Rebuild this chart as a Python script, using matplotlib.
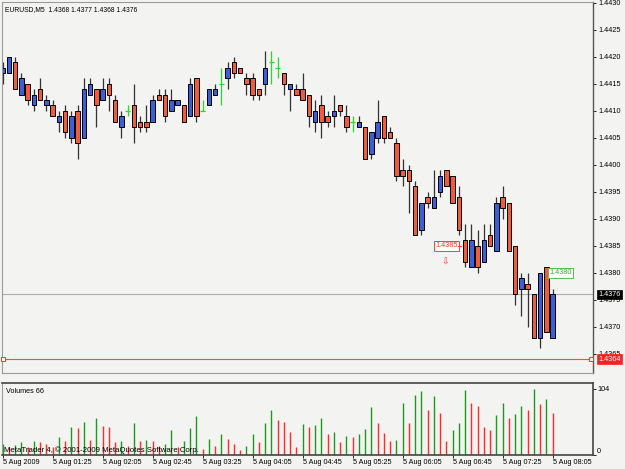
import matplotlib
matplotlib.use("Agg")
import matplotlib.pyplot as plt
from matplotlib.patches import Rectangle
import matplotlib.transforms as mtransforms

# ---------------- data ----------------
symbol = "EURUSD,M5"
opens = [1.4417, 1.4417, 1.4419, 1.4413, 1.4415, 1.4411, 1.4414, 1.4411, 1.4411, 1.4408,
         1.4410, 1.4405, 1.4410, 1.4405, 1.4413, 1.4414, 1.4412, 1.4415, 1.4412, 1.4407,
         1.4410, 1.4411, 1.4408, 1.4408, 1.4408, 1.4413, 1.4413, 1.4410, 1.4411, 1.4411,
         1.4409, 1.4416, 1.4410, 1.4411, 1.4413, 1.4415, 1.4416, 1.4419, 1.4418, 1.4416,
         1.4416, 1.4414, 1.4415, 1.4419, 1.4418, 1.4417, 1.4414, 1.4414, 1.4414, 1.4413,
         1.4408, 1.4411, 1.4409, 1.4409, 1.4411, 1.4409, 1.4408, 1.4407, 1.4407, 1.4402,
         1.4405, 1.4409, 1.4406, 1.4404, 1.4399, 1.4399, 1.4396, 1.4388, 1.4394, 1.4392,
         1.4395, 1.4399, 1.4398, 1.4394, 1.4386, 1.4381, 1.4385, 1.4382, 1.4387, 1.4384,
         1.4394, 1.4393, 1.4385, 1.4377, 1.4378, 1.4376, 1.4368, 1.4381, 1.4368]
highs = [1.4419, 1.4420, 1.4420, 1.4417, 1.4415, 1.4414, 1.4416, 1.4413, 1.4412, 1.4410,
         1.4411, 1.4410, 1.4411, 1.4416, 1.4416, 1.4414, 1.4416, 1.4416, 1.4413, 1.4410,
         1.4411, 1.4415, 1.4409, 1.4411, 1.4413, 1.4414, 1.4414, 1.4414, 1.4412, 1.4411,
         1.4416, 1.4416, 1.4412, 1.4414, 1.4415, 1.4418, 1.4419, 1.4420, 1.4418, 1.4417,
         1.4417, 1.4414, 1.4421, 1.4421, 1.4420, 1.4417, 1.4415, 1.4415, 1.4417, 1.4413,
         1.4412, 1.4413, 1.4410, 1.4413, 1.4411, 1.4411, 1.4409, 1.4409, 1.4407, 1.4406,
         1.4412, 1.4409, 1.4407, 1.4405, 1.4401, 1.4400, 1.4397, 1.4393, 1.4395, 1.4399,
         1.4399, 1.4399, 1.4398, 1.4396, 1.4389, 1.4389, 1.4388, 1.4389, 1.4389, 1.4394,
         1.4396, 1.4393, 1.4385, 1.4380, 1.4380, 1.4376, 1.4380, 1.4381, 1.4377]
lows = [1.4415, 1.4417, 1.4414, 1.4413, 1.4411, 1.4410, 1.4412, 1.4410, 1.4409, 1.4406,
        1.4405, 1.4404, 1.4401, 1.4405, 1.4413, 1.4407, 1.4412, 1.4410, 1.4408, 1.4405,
        1.4409, 1.4404, 1.4406, 1.4406, 1.4408, 1.4412, 1.4408, 1.4410, 1.4411, 1.4408,
        1.4409, 1.4408, 1.4410, 1.4411, 1.4413, 1.4411, 1.4414, 1.4416, 1.4417, 1.4413,
        1.4412, 1.4412, 1.4413, 1.4415, 1.4416, 1.4413, 1.4410, 1.4413, 1.4412, 1.4407,
        1.4406, 1.4405, 1.4407, 1.4407, 1.4409, 1.4406, 1.4406, 1.4407, 1.4401, 1.4401,
        1.4404, 1.4404, 1.4405, 1.4397, 1.4396, 1.4391, 1.4387, 1.4387, 1.4392, 1.4392,
        1.4394, 1.4396, 1.4393, 1.4387, 1.4381, 1.4381, 1.4380, 1.4382, 1.4385, 1.4384,
        1.4390, 1.4384, 1.4374, 1.4372, 1.4370, 1.4368, 1.4366, 1.4369, 1.4368]
closes = [1.4418, 1.4420, 1.4414, 1.4416, 1.4412, 1.4413, 1.4412, 1.4412, 1.4409, 1.4409,
          1.4406, 1.4409, 1.4404, 1.4414, 1.4415, 1.4411, 1.4414, 1.4413, 1.4408, 1.4409,
          1.4410, 1.4407, 1.4407, 1.4407, 1.4412, 1.4412, 1.4409, 1.4412, 1.4412, 1.4408,
          1.4415, 1.4409, 1.4410, 1.4414, 1.4414, 1.4415, 1.4418, 1.4417, 1.4417, 1.4415,
          1.4413, 1.4413, 1.4418, 1.4419, 1.4418, 1.4415, 1.4415, 1.4413, 1.4412, 1.4409,
          1.4410, 1.4408, 1.4408, 1.4410, 1.4410, 1.4407, 1.4408, 1.4408, 1.4401, 1.4406,
          1.4408, 1.4405, 1.4405, 1.4398, 1.4398, 1.4397, 1.4387, 1.4393, 1.4393, 1.4394,
          1.4398, 1.4396, 1.4393, 1.4388, 1.4382, 1.4386, 1.4381, 1.4386, 1.4385, 1.4393,
          1.4392, 1.4384, 1.4376, 1.4379, 1.4377, 1.4368, 1.4380, 1.4369, 1.4376]
volumes = [18, 12, 16, 20, 12, 22, 21, 17, 13, 29,
           22, 45, 43, 53, 24, 59, 46, 44, 20, 22,
           15, 51, 22, 24, 22, 15, 17, 39, 12, 22,
           42, 61, 9, 25, 14, 33, 25, 17, 8, 14,
           33, 20, 51, 71, 56, 52, 36, 13, 49, 44,
           47, 59, 34, 36, 21, 30, 29, 34, 41, 76,
           51, 35, 22, 24, 82, 51, 95, 101, 72, 94,
           67, 22, 40, 51, 103, 83, 77, 45, 39, 63,
           83, 59, 65, 77, 72, 104, 81, 88, 66]
time_label_bars = [0, 8, 16, 24, 32, 40, 48, 56, 64, 72, 80, 88]
time_labels = ["5 Aug 2009", "5 Aug 01:25", "5 Aug 02:05", "5 Aug 02:45", "5 Aug 03:25",
               "5 Aug 04:05", "5 Aug 04:45", "5 Aug 05:25", "5 Aug 06:05", "5 Aug 06:45",
               "5 Aug 07:25", "5 Aug 08:05"]
price_ticks = [1.4430, 1.4425, 1.4420, 1.4415, 1.4410, 1.4405, 1.4400, 1.4395,
               1.4390, 1.4385, 1.4380, 1.4375, 1.4370, 1.4365]
bid_price = 1.4376
hline_price = 1.4364
sell_label_price = 1.4385
close_label_price = 1.4380

# ---------------- layout ----------------
W, H = 625, 469
BG = "#f3f3f1"
FONT = ["Liberation Sans", "DejaVu Sans"]
FS = 5.2
plt.rcParams["font.family"] = FONT

fig = plt.figure(figsize=(W / 100, H / 100), dpi=100)
fig.patch.set_facecolor(BG)

L, R = 2, 593
MT, MB = 2, 373
VT, VB = 383, 455

def rect(l, t, r, b):
    return [l / W, 1 - b / H, (r - l) / W, (b - t) / H]

ax = fig.add_axes(rect(L, MT, R, MB))
axv = fig.add_axes(rect(L, VT, R, VB), sharex=ax)
for a in (ax, axv):
    a.set_facecolor(BG)

# x: bar i at pixel 2.7 + 6.25 i
bar_px = 6.25
x0 = (L - 2.7) / bar_px
ax.set_xlim(x0, x0 + (R - L) / bar_px)
# y: 5.4 px per pip, 1.4420 at pixel 56.7
ppu = 54000.0
ytop = 1.4420 + (56.7 - MT) / ppu
ax.set_ylim(ytop - (MB - MT) / ppu, ytop)

# ---------------- candles ----------------
BLUE = "#3d5fd6"
RED = "#f25b3a"
LIME = "#22dd22"
bw = 0.72
for i, (o, h, l, c) in enumerate(zip(opens, highs, lows, closes)):
    if abs(c - o) < 1e-9:
        ax.vlines(i, l, h, color=LIME, lw=0.9, zorder=2)
        ax.hlines(o, i - bw / 2, i + bw / 2, color=LIME, lw=0.9, zorder=2)
        continue
    ax.vlines(i, l, h, color="#333333", lw=0.9, zorder=1)
    ax.add_patch(Rectangle((i - bw / 2, min(o, c)), bw, abs(c - o),
                           facecolor=BLUE if c > o else RED, edgecolor="black",
                           lw=0.7, zorder=2))

# bid line & horizontal line
ax.axhline(bid_price, color="#b0b0b0", lw=0.8, zorder=0.5)
ax.axhline(hline_price, color="#ff4a4a", lw=0.8, zorder=0.5)
ax.plot([x0 + 0.2, x0 + (R - L) / bar_px - 0.3], [hline_price] * 2, ls="none", marker="s",
        ms=2.6, mfc="white", mec="#ff3030", mew=0.7, zorder=3, clip_on=False)

# trade labels
ax.text(72.8, sell_label_price, f"{sell_label_price:.4f}", color="#ff3030", fontsize=FS,
        ha="right", va="center", zorder=4,
        bbox=dict(boxstyle="square,pad=0.2", fc="white", ec="#ff4040", lw=0.7))
ax.plot([72.9, 73.4], [sell_label_price] * 2, color="#ff4040", lw=0.8, zorder=4)
ax.text(70.8, 1.43820, "\u21e9", color="#ff3030", fontsize=6.5, ha="center", va="center",
        family="DejaVu Sans", zorder=4)
ax.text(87.45, close_label_price, f"{close_label_price:.4f}", color="#30b030", fontsize=FS,
        ha="left", va="center", zorder=4,
        bbox=dict(boxstyle="square,pad=0.2", fc="white", ec="#50c050", lw=0.7))

# header text
ax.text(0.005, 0.988, f"{symbol}  {opens[-1]:.4f} {highs[-1]:.4f} {lows[-1]:.4f} {closes[-1]:.4f}",
        transform=ax.transAxes, fontsize=4.9, ha="left", va="top", color="black")

# price axis
ax.yaxis.tick_right()
ax.set_yticks(price_ticks)
ax.set_yticklabels([f"{p:.4f}" for p in price_ticks])
ax.tick_params(axis="y", right=True, length=2, width=0.6, pad=2.2, labelsize=FS, colors="black")
ax.tick_params(axis="x", bottom=False, labelbottom=False)
trans = mtransforms.blended_transform_factory(ax.transAxes, ax.transData)
ax.text(1.0085, bid_price, f"{bid_price:.4f}", transform=trans, fontsize=FS, color="white",
        ha="left", va="center", clip_on=False, zorder=6,
        bbox=dict(boxstyle="square,pad=0.18", fc="black", ec="black", lw=0.5))
ax.text(1.0085, hline_price, f"{hline_price:.4f}", transform=trans, fontsize=FS, color="white",
        ha="left", va="center", clip_on=False, zorder=6,
        bbox=dict(boxstyle="square,pad=0.18", fc="#ff2020", ec="#ff2020", lw=0.5))

for s in ("left", "top", "bottom"):
    ax.spines[s].set_color("#9a9a9a")
    ax.spines[s].set_linewidth(0.8)
ax.spines["right"].set_color("#555555")
ax.spines["right"].set_linewidth(1.0)

# ---------------- volumes ----------------
GREEN_V = "#1c9a1c"
RED_V = "#ff2a2a"
vcols = [GREEN_V if (k == 0 or v > volumes[k - 1]) else RED_V for k, v in enumerate(volumes)]
axv.vlines(range(len(volumes)), 0, volumes, colors=vcols, lw=1.0)
vmax = max(volumes)
axv.set_ylim(0, vmax * (VB - VT) / (VB - 389.3))
axv.yaxis.tick_right()
axv.set_yticks([0, vmax])
axv.set_yticklabels([])
axv.tick_params(axis="y", length=2, width=0.6)
vtrans = mtransforms.blended_transform_factory(axv.transAxes, axv.transData)
axv.text(1.0068, vmax, f"{vmax}", transform=vtrans, fontsize=FS, ha="left", va="center", clip_on=False)
axv.text(1.0068, 0, "0", transform=vtrans, fontsize=FS, ha="left", va="bottom", clip_on=False)
axv.text(0.006, 0.88, f"Volumes {volumes[-1]}", transform=axv.transAxes, fontsize=FS,
         ha="left", va="center")
axv.text(0.004, 0.07, "MetaTrader 4, \u00a9 2001-2009 MetaQuotes Software Corp.",
         transform=axv.transAxes, fontsize=5.6, ha="left", va="center", zorder=5)

axv.set_xticks(time_label_bars)
axv.set_xticklabels(time_labels, ha="left")
axv.tick_params(axis="x", length=2, width=0.6, pad=1.2, labelsize=FS)
for s in ("top", "right", "bottom"):
    axv.spines[s].set_color("#444444")
    axv.spines[s].set_linewidth(1.2)
axv.spines["left"].set_color("#9a9a9a")
axv.spines["left"].set_linewidth(0.8)

fig.savefig("out.png", dpi=100, facecolor=BG)
